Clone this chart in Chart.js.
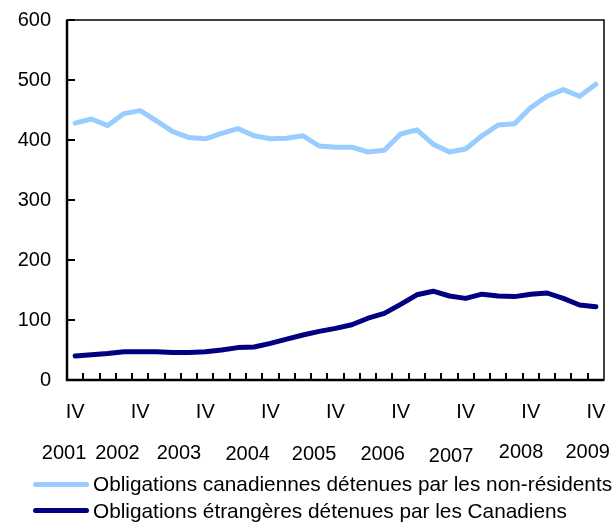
<!DOCTYPE html>
<html lang="fr">
<head>
<meta charset="utf-8">
<script src="https://cdn.jsdelivr.net/npm/chart.js@4.4.1/dist/chart.umd.min.js"></script>
<style>
  html, body { margin: 0; padding: 0; background: #fff; }
  #wrap { position: relative; width: 616px; height: 523px; }
  #legend { position: absolute; left: 33px; top: 471px;
    font: 20.8px "Liberation Sans", Arial, sans-serif; color: #000; }
  .row { display: flex; align-items: center; height: 26.5px; }
  .swatch { width: 56px; height: 5px; border-radius: 3px; margin-right: 4px; }
</style>
</head>
<body>
<div id="wrap">
  <canvas id="chart" width="616" height="523"></canvas>
  <div id="legend"></div>
</div>
<script>
// ---- data ----
const years = ["2001", "2002", "2003", "2004", "2005", "2006", "2007", "2008", "2009"];
const quarters = ["I", "II", "III", "IV"];

// 2001 IV .. 2009 IV, quarterly (billions)
const canBondsNonRes = [428, 435, 424, 444, 449, 432, 414, 404, 402, 411, 419, 407, 402, 403, 407, 390,
  388, 388, 380, 383, 410, 417, 393, 380, 385, 407, 425, 427, 454, 473, 484, 473, 493];
const foreignBondsCdn = [40, 42, 44, 47, 47, 47, 46, 46, 47, 50, 54, 55, 61, 68, 75, 81,
  86, 92, 103, 111, 126, 142, 148, 140, 136, 143, 140, 139, 143, 145, 136, 125, 122];

const yTicks = [0, 100, 200, 300, 400, 500, 600];

const seriesNames = [
  "Obligations canadiennes détenues par les non-résidents",
  "Obligations étrangères détenues par les Canadiens"
];
const seriesColors = ["#99ccff", "#000080"];

// quarter labels, starting at 2001 IV
const labels = ["2001 IV"];
years.slice(1).forEach(y => quarters.forEach(q => labels.push(y + " " + q)));

const FONT = "'Liberation Sans', Arial, sans-serif";

/* ================= FRAME + INWARD TICKS + YEARS ================= */
const framePlugin = {
  id: "frame",
  afterDraw(chart) {
    const { ctx, chartArea: a, scales } = chart;
    ctx.save();
    ctx.strokeStyle = "#000";

    // inward y ticks
    ctx.lineWidth = 2;
    yTicks.forEach(v => {
      const y = Math.round(scales.y.getPixelForValue(v));
      ctx.beginPath(); ctx.moveTo(a.left, y); ctx.lineTo(a.left + 8, y); ctx.stroke();
    });
    // inward x ticks between quarters
    for (let i = 0; i < labels.length - 1; i++) {
      const x = Math.round(scales.x.getPixelForValue(i + 0.5));
      ctx.beginPath(); ctx.moveTo(x, a.bottom); ctx.lineTo(x, a.bottom - 7); ctx.stroke();
    }

    // frame
    ctx.lineWidth = 1.5;
    ctx.strokeRect(a.left, a.top, a.right - a.left, a.bottom - a.top);
    ctx.lineWidth = 2.5;
    ctx.beginPath();
    ctx.moveTo(a.left, a.top); ctx.lineTo(a.left, a.bottom); ctx.lineTo(a.right, a.bottom);
    ctx.stroke();

    // year row under the IV labels
    const pos = [-0.68, 2.6, 6.38, 10.6, 14.68, 18.9, 23.1, 27.4, 31.5];
    const dy = [0, 0, 0, 1.5, 1.5, 1.5, 3, -0.5, -0.5];
    ctx.fillStyle = "#000";
    ctx.font = "20px " + FONT;
    ctx.textAlign = "center";
    ctx.textBaseline = "middle";
    years.forEach((yr, i) => {
      ctx.fillText(yr, scales.x.getPixelForValue(pos[i]), a.bottom + 73 + dy[i]);
    });
    ctx.restore();
  }
};

const chart = new Chart(document.getElementById("chart"), {
  type: "line",
  data: {
    labels,
    datasets: [
      { label: seriesNames[0], data: canBondsNonRes, borderColor: seriesColors[0], borderWidth: 5 },
      { label: seriesNames[1], data: foreignBondsCdn, borderColor: seriesColors[1], borderWidth: 5 }
    ]
  },
  options: {
    responsive: false,
    animation: false,
    events: [],
    layout: { padding: { top: 20, right: 12, left: 0, bottom: 0 } },
    elements: { point: { radius: 0 }, line: { tension: 0, borderCapStyle: "round", borderJoinStyle: "round" } },
    plugins: { legend: { display: false }, tooltip: { enabled: false } },
    scales: {
      x: {
        offset: true,
        grid: { display: false, drawTicks: false },
        border: { display: false },
        afterFit: s => { s.height = 143; s.paddingLeft = 0; s.paddingRight = 0; },
        ticks: {
          autoSkip: false,
          maxRotation: 0,
          padding: 20,
          color: "#000",
          font: { size: 20, family: FONT },
          callback: (v, i) => labels[i].endsWith(" IV") ? "IV" : ""
        }
      },
      y: {
        min: 0,
        max: 600,
        afterFit: s => { s.width = 67; s.paddingTop = 0; s.paddingBottom = 0; },
        afterBuildTicks: s => { s.ticks = yTicks.map(v => ({ value: v })); },
        grid: { display: false, drawTicks: false },
        border: { display: false },
        ticks: { padding: 16, color: "#000", font: { size: 20, family: FONT } }
      }
    }
  },
  plugins: [framePlugin]
});

/* ================= LEGEND ================= */
const legend = document.getElementById("legend");
chart.data.datasets.forEach(ds => {
  legend.innerHTML += `
    <div class="row">
      <span class="swatch" style="background:${ds.borderColor}"></span>
      <span>${ds.label}</span>
    </div>`;
});
</script>
</body>
</html>
